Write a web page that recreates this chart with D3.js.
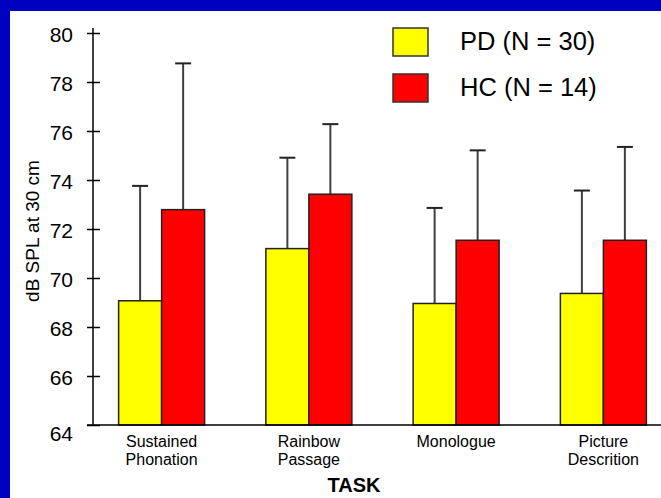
<!DOCTYPE html>
<html><head><meta charset="utf-8">
<script src="https://cdn.jsdelivr.net/npm/d3@7"></script>
<style>html,body{margin:0;padding:0;background:#0000c0;} svg{display:block;}</style>
</head><body>
<script>
// ---- data ----
const taskKeys = ["Sustained Phonation", "Rainbow Passage", "Monologue", "Picture Descrition"];
const taskLines = [["Sustained", "Phonation"], ["Rainbow", "Passage"], ["Monologue"], ["Picture", "Descrition"]];
const seriesNames = ["PD (N = 30)", "HC (N = 14)"];
const pdMean = [69.07, 71.2, 68.96, 69.37];
const pdSD   = [4.69, 3.71, 3.90, 4.20];
const hcMean = [72.79, 73.42, 71.54, 71.54];
const hcSD   = [5.97, 2.86, 3.67, 3.81];
const yTicks = [64, 66, 68, 70, 72, 74, 76, 78, 80];
const yTitle = "dB SPL at 30 cm";
const xTitle = "TASK";
const seriesColors = ["#ffff00", "#ff0000"];

const W = 661, H = 498;
const FONT = "Arial, 'Liberation Sans', Helvetica, sans-serif";

const svg = d3.select("body").append("svg").attr("width", W).attr("height", H);
svg.append("rect").attr("width", W).attr("height", H).attr("fill", "#0000c0");
svg.append("rect").attr("x", 10).attr("y", 11).attr("width", W - 10).attr("height", H - 11).attr("fill", "#ffffff");

const y = d3.scaleLinear().domain([64, 80]).range([425, 33]);
const x = d3.scaleBand().domain(taskKeys).range([93, 672]).paddingInner(0.416).paddingOuter(0.174);
const xs = d3.scaleBand().domain([0, 1]).range([0, x.bandwidth()]);

const rows = taskKeys.map((k, i) => ({
  key: k,
  vals: [
    {s: 0, mean: pdMean[i], sd: pdSD[i]},
    {s: 1, mean: hcMean[i], sd: hcSD[i]}
  ]
}));

// bars
const g = svg.append("g");
const groups = g.selectAll("g.grp").data(rows).join("g")
  .attr("transform", d => `translate(${x(d.key)},0)`);

// error bars (upward only), drawn behind bars
groups.selectAll("line.err").data(d => d.vals).join("line")
  .attr("x1", d => xs(d.s) + xs.bandwidth() / 2)
  .attr("x2", d => xs(d.s) + xs.bandwidth() / 2)
  .attr("y1", d => y(d.mean))
  .attr("y2", d => y(d.mean + d.sd))
  .attr("stroke", "#404040").attr("stroke-width", 2);
groups.selectAll("line.cap").data(d => d.vals).join("line")
  .attr("x1", d => xs(d.s) + xs.bandwidth() / 2 - 8)
  .attr("x2", d => xs(d.s) + xs.bandwidth() / 2 + 8)
  .attr("y1", d => y(d.mean + d.sd))
  .attr("y2", d => y(d.mean + d.sd))
  .attr("stroke", "#222").attr("stroke-width", 2);

groups.selectAll("rect").data(d => d.vals).join("rect")
  .attr("x", d => xs(d.s))
  .attr("y", d => y(d.mean))
  .attr("width", xs.bandwidth())
  .attr("height", d => y(64) - y(d.mean))
  .attr("fill", d => seriesColors[d.s])
  .attr("stroke", "#222").attr("stroke-width", 1.5);

// y axis
const yAxis = d3.axisLeft(y).tickValues(yTicks).tickSize(6).tickPadding(14);
const ga = svg.append("g").attr("transform", "translate(93,0)").call(yAxis);
ga.select(".domain").remove();
ga.selectAll(".tick line").attr("x1", 7).attr("stroke", "#000").attr("stroke-width", 1.5);
ga.selectAll(".tick text")
  .attr("font-family", FONT).attr("font-size", 21).attr("fill", "#000")
  .attr("dy", d => d === 64 ? "0.75em" : "0.42em");
svg.append("line").attr("x1", 93).attr("x2", 93).attr("y1", y(80) - 5).attr("y2", y(64))
  .attr("stroke", "#000").attr("stroke-width", 1.5);

// baseline
svg.append("line").attr("x1", 87).attr("x2", W).attr("y1", y(64)).attr("y2", y(64))
  .attr("stroke", "#000").attr("stroke-width", 1.5);

// category labels
const cl = svg.append("g").selectAll("text").data(taskKeys).join("text")
  .attr("x", d => x(d) + x.bandwidth() / 2)
  .attr("y", 447)
  .attr("text-anchor", "middle")
  .attr("font-family", FONT).attr("font-size", 16).attr("fill", "#000");
cl.each(function(d, i) {
  const t = d3.select(this);
  taskLines[i].forEach((ln, j) => {
    t.append("tspan").attr("x", x(d) + x.bandwidth() / 2).attr("dy", j === 0 ? 0 : 18).text(ln);
  });
});

// axis titles
svg.append("text").attr("x", 354).attr("y", 492).attr("text-anchor", "middle")
  .attr("font-family", FONT).attr("font-size", 20).attr("font-weight", "bold").text(xTitle);
svg.append("text").attr("transform", "translate(39,231) rotate(-90)").attr("text-anchor", "middle")
  .attr("font-family", FONT).attr("font-size", 19).attr("fill", "#000").text(yTitle);

// legend
const lg = svg.append("g").selectAll("g").data(seriesNames).join("g")
  .attr("transform", (d, i) => `translate(393,${28 + i * 46})`);
lg.append("rect").attr("width", 35).attr("height", 28)
  .attr("fill", (d, i) => seriesColors[i]).attr("stroke", "#333").attr("stroke-width", 1.5);
lg.append("text").attr("x", 67).attr("y", 22)
  .attr("font-family", FONT).attr("font-size", 25.5).attr("fill", "#000").text(d => d);
</script>
</body></html>
